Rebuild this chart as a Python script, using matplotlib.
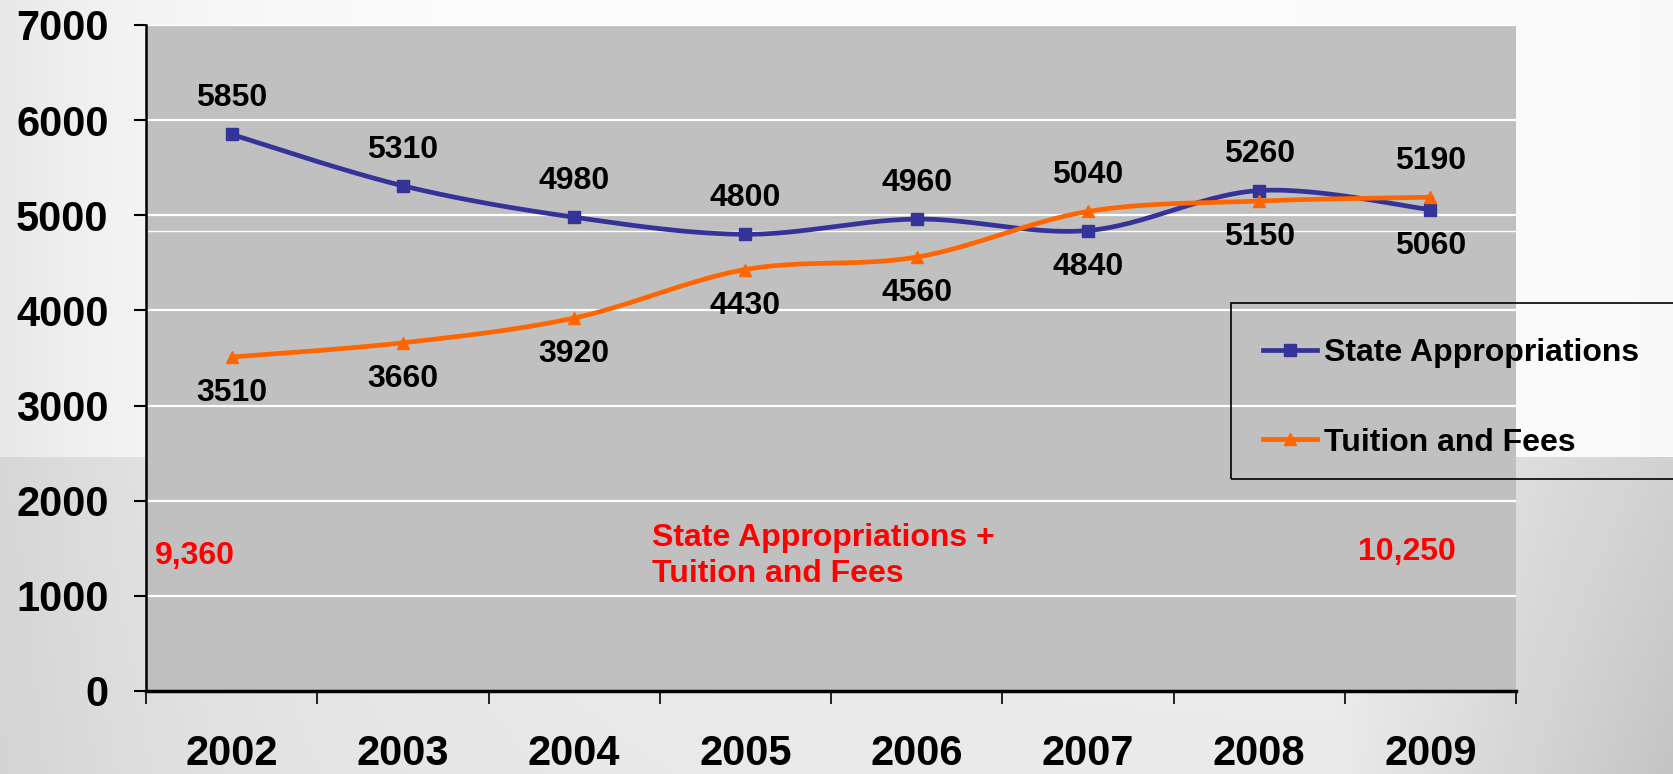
import numpy as np
import matplotlib
matplotlib.use("Agg")
import matplotlib.pyplot as plt
from matplotlib.patches import Rectangle
from matplotlib.lines import Line2D

years = ["2002", "2003", "2004", "2005", "2006", "2007", "2008", "2009"]
state_approp = [5850, 5310, 4980, 4800, 4960, 4840, 5260, 5060]
tuition_fees = [3510, 3660, 3920, 4430, 4560, 5040, 5150, 5190]
state_label_above = [True, True, True, True, True, False, True, False]
tuition_label_above = [False, False, False, False, False, True, False, True]
yticks = [0, 1000, 2000, 3000, 4000, 5000, 6000, 7000]
total_2002 = "9,360"
total_2009 = "10,250"
total_caption = "State Appropriations +\nTuition and Fees"

BLUE = "#333399"
ORANGE = "#FF6600"
FONT = "Liberation Sans"

W, H = 1673, 774
fig = plt.figure(figsize=(W / 100, H / 100), dpi=100)

# background gradient
bg = fig.add_axes([0, 0, 1, 1], zorder=-10)
bg.set_axis_off()
xx = np.linspace(0, 1, 400)[None, :]
yy = np.linspace(0, 1, 200)[:, None]
split = 457 / H
upper = 1.0 - 0.09 * np.exp(-xx / 0.12) - 0.02 * xx
lower = 0.95 - 0.09 * np.exp(-xx / 0.15) - 0.10 * np.clip((xx - 0.8) / 0.2, 0, 1) * (0.5 + yy) - 0.03 * yy
img = np.where(yy < split, upper + 0 * yy, lower)
bg.imshow(np.dstack([img, img, img]).clip(0, 1), aspect="auto", extent=[0, 1, 1, 0])
bg.set_xlim(0, 1)
bg.set_ylim(1, 0)

ax = fig.add_axes([146 / W, 1 - 691 / H, (1516 - 146) / W, (691 - 25) / H])
ax.set_facecolor("#C0C0C0")
x = np.arange(len(years))


def smooth(xs, ys, n=30):
    xs = np.asarray(xs, float)
    ys = np.asarray(ys, float)
    px = np.concatenate([[xs[0]], xs, [xs[-1]]])
    py = np.concatenate([[ys[0]], ys, [ys[-1]]])
    ox, oy = [], []
    t = np.linspace(0, 1, n)
    for i in range(1, len(px) - 2):
        p0 = np.array([px[i], py[i]])
        p3 = np.array([px[i + 1], py[i + 1]])
        p1 = p0 + (np.array([px[i + 1], py[i + 1]]) - np.array([px[i - 1], py[i - 1]])) / 6
        p2 = p3 - (np.array([px[i + 2], py[i + 2]]) - np.array([px[i], py[i]])) / 6
        b = ((1 - t) ** 3)[:, None] * p0 + (3 * (1 - t) ** 2 * t)[:, None] * p1 \
            + (3 * (1 - t) * t ** 2)[:, None] * p2 + (t ** 3)[:, None] * p3
        ox.extend(b[:, 0]); oy.extend(b[:, 1])
    return np.array(ox), np.array(oy)


for yv in yticks[1:]:
    ax.axhline(yv, color="white", lw=1.6, zorder=1)
ax.axhline(4830, color="white", lw=1.0, zorder=1)

sx, sy = smooth(x, state_approp)
ax.plot(sx, sy, color=BLUE, lw=3.4, zorder=3, solid_capstyle="round")
ax.plot(x, state_approp, ls="none", marker="s", ms=9, color=BLUE, zorder=4)
tx, ty = smooth(x, tuition_fees)
ax.plot(tx, ty, color=ORANGE, lw=3.4, zorder=5, solid_capstyle="round")
ax.plot(x, tuition_fees, ls="none", marker="^", ms=9, color=ORANGE, zorder=6)

for xi, v, above in zip(x, state_approp, state_label_above):
    ax.annotate(str(v), (xi, v), xytext=(0, 26 if above else -26), textcoords="offset points",
                ha="center", va="center", fontsize=23, fontweight="bold", family=FONT, zorder=7)
for xi, v, above in zip(x, tuition_fees, tuition_label_above):
    ax.annotate(str(v), (xi, v), xytext=(0, 26 if above else -26), textcoords="offset points",
                ha="center", va="center", fontsize=23, fontweight="bold", family=FONT, zorder=7)

ax.set_xlim(-0.5, len(years) - 0.5)
ax.set_ylim(0, 7000)
ax.set_yticks(yticks)
ax.set_yticklabels([str(v) for v in yticks], fontsize=30, fontweight="bold", family=FONT)
ax.set_xticks(x)
ax.set_xticklabels(years, fontsize=30, fontweight="bold", family=FONT)
ax.set_xticks(np.arange(-0.5, len(years)), minor=True)
ax.tick_params(axis="x", which="major", length=0, pad=31)
ax.tick_params(axis="x", which="minor", length=9, width=1.2, direction="out")
ax.tick_params(axis="y", length=9, width=1.5, direction="out", pad=18)
for s in ["top", "right"]:
    ax.spines[s].set_visible(False)
ax.spines["left"].set_linewidth(1.8)
ax.spines["bottom"].set_linewidth(2.5)

# red annotations
fig.text(155 / W, 1 - 556 / H, total_2002, color="red", fontsize=23, fontweight="bold",
         family=FONT, ha="left", va="center")
fig.text(1358 / W, 1 - 552 / H, total_2009, color="red", fontsize=23, fontweight="bold",
         family=FONT, ha="left", va="center")
fig.text(652 / W, 1 - 556 / H, total_caption, color="red", fontsize=23, fontweight="bold",
         family=FONT, ha="left", va="center", linespacing=1.22)

# legend
fig.patches.append(Rectangle((1231 / W, 1 - 479 / H), (1680 - 1231) / W, (479 - 303) / H,
                             transform=fig.transFigure, fill=False, ec="black", lw=1.2, zorder=10))
handles = [Line2D([], [], color=BLUE, lw=3.4, marker="s", ms=8),
           Line2D([], [], color=ORANGE, lw=3.4, marker="^", ms=8)]
fig.legend(handles, ["State Appropriations", "Tuition and Fees"], loc="center left",
           bbox_to_anchor=(1263 / W, 1 - 398 / H), frameon=False,
           prop={"family": FONT, "weight": "bold", "size": 23},
           handlelength=1.7, handletextpad=0.22, labelspacing=1.85, borderpad=0,
           borderaxespad=0)

fig.savefig("out.png", dpi=100)
